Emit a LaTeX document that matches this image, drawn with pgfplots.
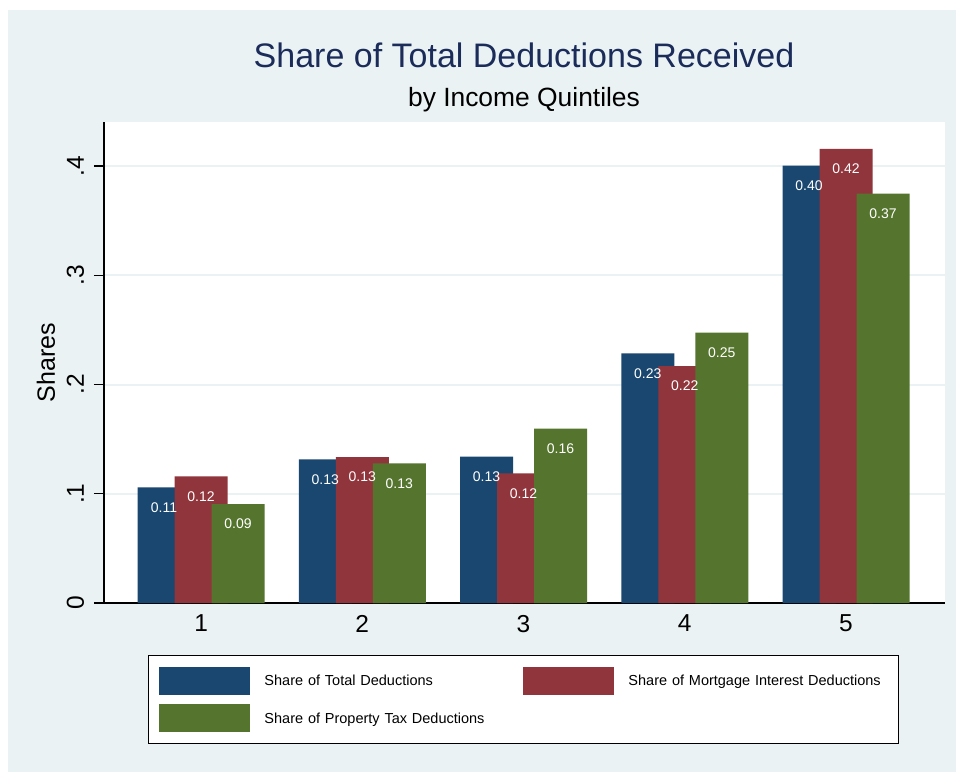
\documentclass[border=0pt]{standalone}
\usepackage{pgfplots}
\pgfplotsset{compat=1.18}
\usepackage{fontspec}
\setmainfont{Liberation Sans}
\definecolor{bgc}{RGB}{234,242,243}
\definecolor{snavy}{RGB}{26,71,111}
\definecolor{smaroon}{RGB}{144,53,59}
\definecolor{sgreen}{RGB}{85,117,47}
\definecolor{dknavy}{RGB}{28,44,90}
\begin{document}
\begin{tikzpicture}[x=1pt,y=1pt]
\fill[white] (0,0) rectangle (956,772);
\fill[bgc] (8,0) rectangle (956,762);
\node[anchor=base, text=dknavy, font=\fontsize{34}{40}\selectfont] at (524,704) {Share of Total Deductions Received};
\node[anchor=base, font=\fontsize{26.4}{31}\selectfont] at (524,665) {by Income Quintiles};
\begin{axis}[
  at={(104pt,169pt)}, anchor=south west,
  scale only axis, width=841pt, height=481pt,
  axis background/.style={fill=white},
  xmin=0.398, xmax=5.614, ymin=0, ymax=0.4403,
  axis x line*=bottom, axis y line*=left,
  axis line style={line width=1.3pt, black, -},
  xtick={1,2,3,4,5}, xticklabels={1,2,3,4,5},
  ytick={0,0.1,0.2,0.3,0.4}, yticklabels={0,.1,.2,.3,.4},
  x tick style={draw=none}, major tick length=10pt,
  y tick style={line width=1.3pt, black},
  tick align=outside,
  ymajorgrids, grid style={bgc, line width=2pt},
  ticklabel style={font=\fontsize{24.5}{28}\selectfont},
  xticklabel style={anchor=north, inner sep=0pt, outer ysep=2pt},
  yticklabel style={rotate=90, anchor=south, inner sep=0pt, outer ysep=10pt},
  ylabel={Shares},
  ylabel style={at={(axis description cs:-0.069,0.5)}, anchor=center, rotate=0, font=\fontsize{25}{30}\selectfont},
  /pgf/number format/assume math mode=true,
  nodes near coords,
  nodes near coords style={text=white, anchor=center, yshift=-20pt, font=\fontsize{14}{16}\selectfont,
    /pgf/number format/.cd, fixed, fixed zerofill, precision=2, assume math mode=true},
  legend columns=2,
  legend style={at={(axis description cs:0.0523,-0.1081)}, anchor=north west,
    draw=black, line width=1pt, fill=white, inner xsep=11pt, inner ysep=11.5pt,
    row sep=9.5pt,
    nodes={inner sep=0pt, text width=259pt, align=left, font=\fontsize{14.5}{17}\selectfont},
    /tikz/every odd column/.append style={column sep=14pt},
    /tikz/every even column/.append style={column sep=0pt}},
  legend cell align=left,
  legend image code/.code={\fill[#1] (0pt,-14pt) rectangle (91pt,14pt);},
]
\addplot[ybar, bar width=53pt, bar shift=0pt, fill=snavy, draw=none] coordinates {(0.7705,0.1059) (1.7705,0.1315) (2.7705,0.1339) (3.7705,0.2285) (4.7705,0.4003)};
\addlegendentry{Share of Total Deductions}
\addplot[ybar, bar width=53pt, bar shift=0pt, fill=smaroon, draw=none] coordinates {(1,0.1160) (2,0.1336) (3,0.1187) (4,0.2169) (5,0.4156)};
\addlegendentry{Share of Mortgage Interest Deductions}
\addplot[ybar, bar width=53pt, bar shift=0pt, fill=sgreen, draw=none] coordinates {(1.2295,0.0906) (2.2295,0.1279) (3.2295,0.1596) (4.2295,0.2474) (5.2295,0.3747)};
\addlegendentry{Share of Property Tax Deductions}
\end{axis}
\end{tikzpicture}
\end{document}
